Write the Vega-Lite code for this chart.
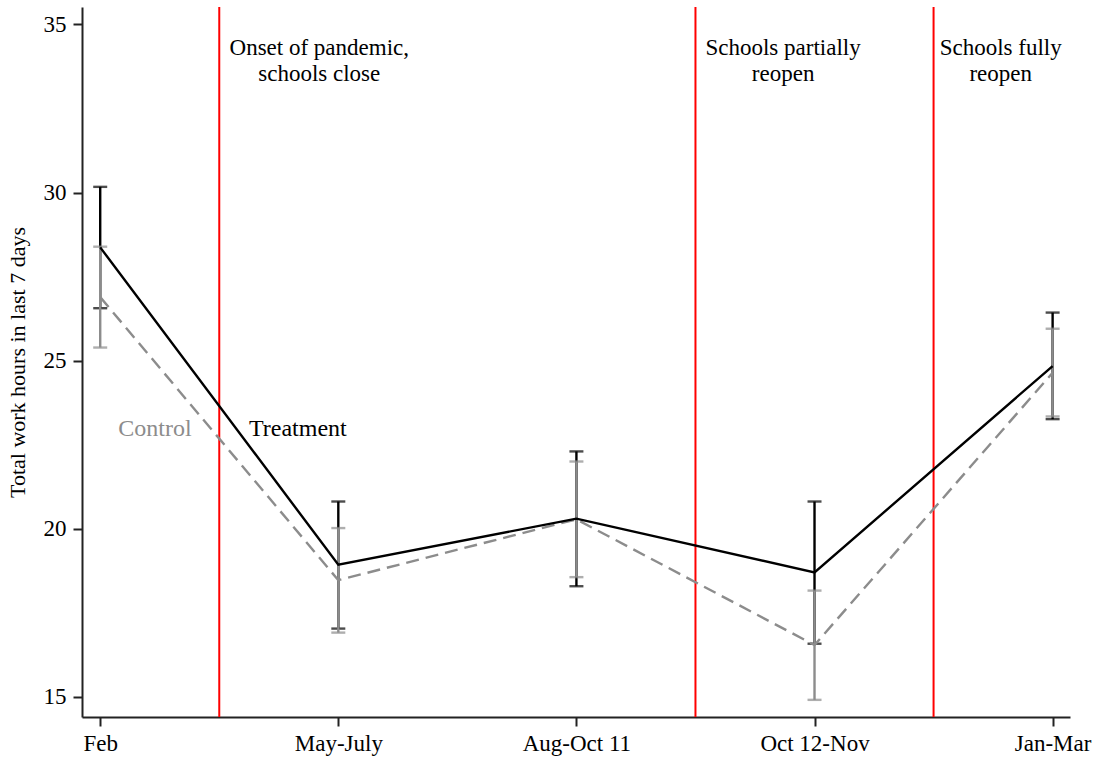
{
  "$schema": "https://vega.github.io/schema/vega-lite/v6.json",
  "width": 988,
  "height": 710,
  "autosize": {"type": "none"},
  "padding": {"left": 82, "top": 7, "right": 29, "bottom": 46},
  "background": "white",
  "config": {
    "view": {"stroke": null},
    "font": "Liberation Serif",
    "axis": {
      "grid": false,
      "domainColor": "#222222",
      "domainWidth": 2,
      "tickColor": "#222222",
      "tickWidth": 2,
      "tickSize": 9,
      "labelColor": "black",
      "labelFont": "Liberation Serif",
      "labelFontSize": 23,
      "titleFont": "Liberation Serif",
      "titleFontSize": 22,
      "titleFontWeight": "normal",
      "titleColor": "black"
    }
  },
  "datasets": {
    "est": [
      {"period": 0, "group": "Treatment", "mean": 28.37, "lo": 26.56, "hi": 30.17},
      {"period": 1, "group": "Treatment", "mean": 18.93, "lo": 17.03, "hi": 20.81},
      {"period": 2, "group": "Treatment", "mean": 20.3, "lo": 18.29, "hi": 22.3},
      {"period": 3, "group": "Treatment", "mean": 18.7, "lo": 16.58, "hi": 20.81},
      {"period": 4, "group": "Treatment", "mean": 24.84, "lo": 23.26, "hi": 26.43},
      {"period": 0, "group": "Control", "mean": 26.89, "lo": 25.39, "hi": 28.39},
      {"period": 1, "group": "Control", "mean": 18.47, "lo": 16.91, "hi": 20.02},
      {"period": 2, "group": "Control", "mean": 20.28, "lo": 18.56, "hi": 22.0},
      {"period": 3, "group": "Control", "mean": 16.54, "lo": 14.91, "hi": 18.16},
      {"period": 4, "group": "Control", "mean": 24.64, "lo": 23.34, "hi": 25.95}
    ],
    "events": [
      {"x": 0.5, "tx": 0.92, "label": ["Onset of pandemic,", "schools close"]},
      {"x": 2.5, "tx": 2.868, "label": ["Schools partially", "reopen"]},
      {"x": 3.5, "tx": 3.782, "label": ["Schools fully", "reopen"]}
    ],
    "tags": [
      {"tx": 0.23, "ty": 22.96, "group": "Control"},
      {"tx": 0.83, "ty": 22.96, "group": "Treatment"}
    ]
  },
  "layer": [
    {
      "data": {"name": "events"},
      "mark": {"type": "rule", "color": "#ff0000", "strokeWidth": 2},
      "encoding": {
        "x": {
          "field": "x", "type": "quantitative", "title": null,
          "scale": {"domain": [-0.0765, 4.073], "nice": false, "zero": false},
          "axis": {
            "values": [0, 1, 2, 3, 4],
            "labelExpr": "['Feb','May-July','Aug-Oct 11','Oct 12-Nov','Jan-Mar'][datum.value]",
            "labelFontSize": 23,
            "labelPadding": 6,
            "labelFlush": false
          }
        }
      }
    },
    {
      "data": {"name": "events"},
      "mark": {"type": "text", "align": "center", "baseline": "alphabetic", "fontSize": 23, "lineHeight": 26, "color": "black"},
      "encoding": {
        "x": {"field": "tx", "type": "quantitative", "title": null},
        "y": {
          "datum": 34.09, "type": "quantitative",
          "title": "Total work hours in last 7 days",
          "scale": {"domain": [14.4, 35.52], "nice": false, "zero": false},
          "axis": {
            "values": [15, 20, 25, 30, 35],
            "labelFontSize": 23,
            "labelPadding": 7,
            "titlePadding": 14
          }
        },
        "text": {"field": "label"}
      }
    },
    {
      "data": {"name": "est"},
      "transform": [{"filter": "datum.group == 'Treatment'"}],
      "mark": {"type": "errorbar", "color": "black", "thickness": 2.4, "ticks": {"size": 14, "thickness": 2.4, "color": "black"}},
      "encoding": {
        "x": {"field": "period", "type": "quantitative", "title": null},
        "y": {"field": "lo", "type": "quantitative", "title": "Total work hours in last 7 days"},
        "y2": {"field": "hi"}
      }
    },
    {
      "data": {"name": "est"},
      "transform": [{"filter": "datum.group == 'Control'"}],
      "mark": {"type": "errorbar", "color": "#8c8c8c", "thickness": 2.4, "ticks": {"size": 14, "thickness": 2.4, "color": "#8c8c8c"}},
      "encoding": {
        "x": {"field": "period", "type": "quantitative", "title": null},
        "y": {"field": "lo", "type": "quantitative", "title": "Total work hours in last 7 days"},
        "y2": {"field": "hi"}
      }
    },
    {
      "data": {"name": "est"},
      "transform": [{"filter": "datum.group == 'Control'"}],
      "mark": {"type": "line", "color": "#8c8c8c", "strokeWidth": 2.4, "strokeDash": [13, 7]},
      "encoding": {
        "x": {"field": "period", "type": "quantitative", "title": null},
        "y": {"field": "mean", "type": "quantitative", "title": "Total work hours in last 7 days"}
      }
    },
    {
      "data": {"name": "est"},
      "transform": [{"filter": "datum.group == 'Treatment'"}],
      "mark": {"type": "line", "color": "black", "strokeWidth": 2.4},
      "encoding": {
        "x": {"field": "period", "type": "quantitative", "title": null},
        "y": {"field": "mean", "type": "quantitative", "title": "Total work hours in last 7 days"}
      }
    },
    {
      "data": {"name": "tags"},
      "mark": {"type": "text", "align": "center", "baseline": "middle", "fontSize": 24},
      "encoding": {
        "x": {"field": "tx", "type": "quantitative", "title": null},
        "y": {"field": "ty", "type": "quantitative", "title": "Total work hours in last 7 days"},
        "text": {"field": "group"},
        "color": {"field": "group", "type": "nominal", "scale": {"domain": ["Treatment", "Control"], "range": ["black", "#8c8c8c"]}, "legend": null}
      }
    }
  ]
}
